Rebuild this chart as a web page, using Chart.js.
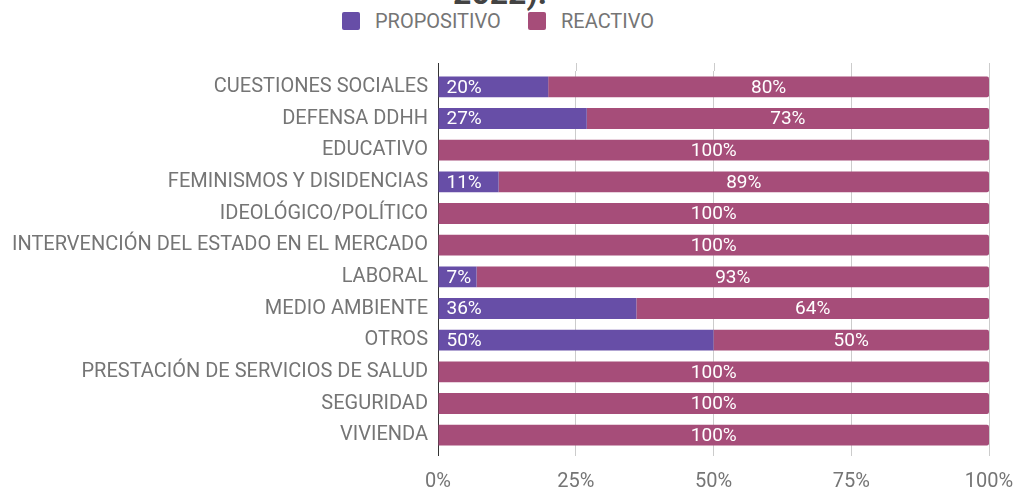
<!DOCTYPE html>
<html>
<head>
<meta charset="utf-8">
<script src="https://cdn.jsdelivr.net/npm/chart.js@4.4.1/dist/chart.umd.min.js"></script>
<style>
  html, body { margin: 0; padding: 0; background: #ffffff; }
  #wrap { position: relative; width: 1016px; height: 488px; overflow: hidden; font-family: Roboto, sans-serif; }
  #title { position: absolute; left: 0; width: 1000px; text-align: center; top: -23px; line-height: 32px; font-size: 32px; font-weight: bold; color: #434343; white-space: nowrap; }
  .leg { position: absolute; top: 10px; font-size: 20px; color: #757575; line-height: 22px; white-space: nowrap; }
  .box { position: absolute; top: 2px; width: 18px; height: 18px; border-radius: 2px; }
  canvas { position: absolute; left: 0; top: 0; }
</style>
</head>
<body>
<div id="wrap">
  <div id="title">2022).</div>
  <div class="leg" style="left:342px;"><span class="box" style="left:0;background:#674ea7;"></span><span style="margin-left:33px;">PROPOSITIVO</span></div>
  <div class="leg" style="left:528px;"><span class="box" style="left:0;background:#a64d79;"></span><span style="margin-left:33px;">REACTIVO</span></div>
  <canvas id="c" width="1016" height="488"></canvas>
</div>
<script>
const categories = [
  "CUESTIONES SOCIALES",
  "DEFENSA DDHH",
  "EDUCATIVO",
  "FEMINISMOS Y DISIDENCIAS",
  "IDEOLÓGICO/POLÍTICO",
  "INTERVENCIÓN DEL ESTADO EN EL MERCADO",
  "LABORAL",
  "MEDIO AMBIENTE",
  "OTROS",
  "PRESTACIÓN DE SERVICIOS DE SALUD",
  "SEGURIDAD",
  "VIVIENDA"
];
const propositivo = [20, 27, 0, 11, 0, 0, 7, 36, 50, 0, 0, 0];
const reactivo    = [80, 73, 100, 89, 100, 100, 93, 64, 50, 100, 100, 100];
const seriesNames = ["PROPOSITIVO", "REACTIVO"];
const xTicks = [0, 25, 50, 75, 100];

const labelPlugin = {
  id: 'barLabels',
  afterDatasetsDraw(chart) {
    const ctx = chart.ctx;
    ctx.save();
    ctx.font = '19px Roboto, sans-serif';
    ctx.fillStyle = '#ffffff';
    ctx.textBaseline = 'middle';
    chart.data.datasets.forEach((ds, di) => {
      const meta = chart.getDatasetMeta(di);
      meta.data.forEach((bar, i) => {
        const v = ds.data[i];
        if (!v) return;
        const txt = v + '%';
        if (di === 0) {
          ctx.textAlign = 'left';
          ctx.fillText(txt, Math.min(bar.x, bar.base) + 8, bar.y + 1);
        } else {
          ctx.textAlign = 'center';
          ctx.fillText(txt, (bar.x + bar.base) / 2, bar.y + 1);
        }
      });
    });
    ctx.restore();
  }
};

const gridExtend = {
  id: 'gridExtend',
  beforeDatasetsDraw(chart) {
    const ctx = chart.ctx, xs = chart.scales.x, top = chart.chartArea.top;
    ctx.save();
    ctx.lineWidth = 1;
    xTicks.forEach((v, i) => {
      const px = Math.round(xs.getPixelForValue(v)) + 0.5;
      ctx.strokeStyle = i === 0 ? '#333333' : '#cccccc';
      ctx.beginPath();
      ctx.moveTo(px, top - 8);
      ctx.lineTo(px, top);
      ctx.stroke();
    });
    ctx.restore();
  }
};

new Chart(document.getElementById('c'), {
  type: 'bar',
  data: {
    labels: categories,
    datasets: [
      { label: seriesNames[0], data: propositivo, backgroundColor: '#674ea7', borderWidth: 0, borderRadius: 0 },
      { label: seriesNames[1], data: reactivo, backgroundColor: '#a64d79', borderWidth: 0,
        borderSkipped: false, borderRadius: { topLeft: 0, bottomLeft: 0, topRight: 2, bottomRight: 2 } }
    ]
  },
  options: {
    indexAxis: 'y',
    responsive: false,
    animation: false,
    devicePixelRatio: 1,
    layout: { padding: { top: 71, right: 27, left: 0, bottom: 0 } },
    plugins: { legend: { display: false }, tooltip: { enabled: false }, title: { display: false } },
    datasets: { bar: { categoryPercentage: 1, barPercentage: 0.66 } },
    scales: {
      x: {
        stacked: true, min: 0, max: 100,
        afterBuildTicks(scale) { scale.ticks = xTicks.map(v => ({ value: v })); },
        afterFit(scale) { scale.height = 37; scale.paddingLeft = 0; scale.paddingRight = 0; },
        ticks: { callback: v => v + '%', color: '#757575', font: { family: 'Roboto', size: 20 }, padding: 14, maxRotation: 0 },
        grid: { color: ctx => ctx.index === 0 ? '#333333' : '#cccccc', tickLength: 5, lineWidth: 1 },
        border: { display: false }
      },
      y: {
        stacked: true,
        afterFit(scale) { scale.width = 438; },
        ticks: { color: '#757575', font: { family: 'Roboto', size: 20 }, padding: 2 },
        grid: { display: false },
        border: { display: true, color: '#333333' }
      }
    }
  },
  plugins: [labelPlugin, gridExtend]
});
</script>
</body>
</html>
